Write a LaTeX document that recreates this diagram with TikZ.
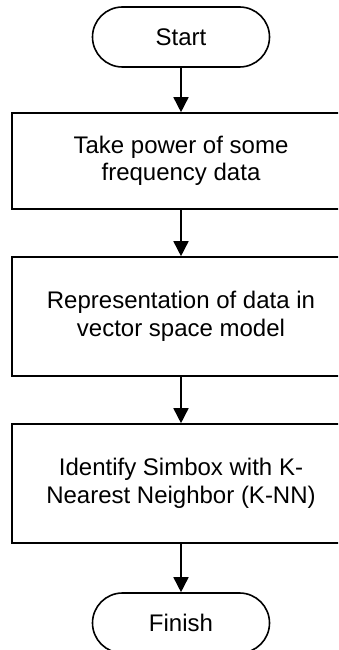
\documentclass[tikz,border=0pt]{standalone}
\usepackage{fontspec}
\setmainfont{Liberation Sans}
\usetikzlibrary{arrows.meta}

\begin{document}
\begin{tikzpicture}[x=1pt,y=1pt,
  term/.style={draw, line width=1.6pt, rounded corners=30pt, minimum width=177pt, minimum height=60pt, inner sep=0pt, font=\fontsize{24}{27.5}\selectfont},
  proc/.style={draw, line width=1.6pt, minimum width=338pt, inner sep=0pt, align=center, font=\fontsize{24}{27.5}\selectfont},
  flow/.style={line width=1.6pt, -{Triangle[length=15pt,width=15pt]}}]
\useasboundingbox (0,0) rectangle (338,-650);
\clip (0,0) rectangle (338,-650);
% terminals
\node[term] (start) at (181,-37) {Start};
\node[term] (finish) at (181,-623) {Finish};
% steps
\node[proc, minimum height=96pt] (power) at (181,-161) {Take power of some\\frequency data};
\node[proc, minimum height=119pt] (vsm) at (181,-316.5) {Representation of data in\\vector space model};
\node[proc, minimum height=119pt] (knn) at (181,-483.5) {Identify Simbox with K-\\Nearest Neighbor (K-NN)};
% arrows
\draw [flow] (start) -- (power);
\draw [flow] (power) -- (vsm);
\draw [flow] (vsm) -- (knn);
\draw [flow] (knn) -- (finish);
\end{tikzpicture}
\end{document}
